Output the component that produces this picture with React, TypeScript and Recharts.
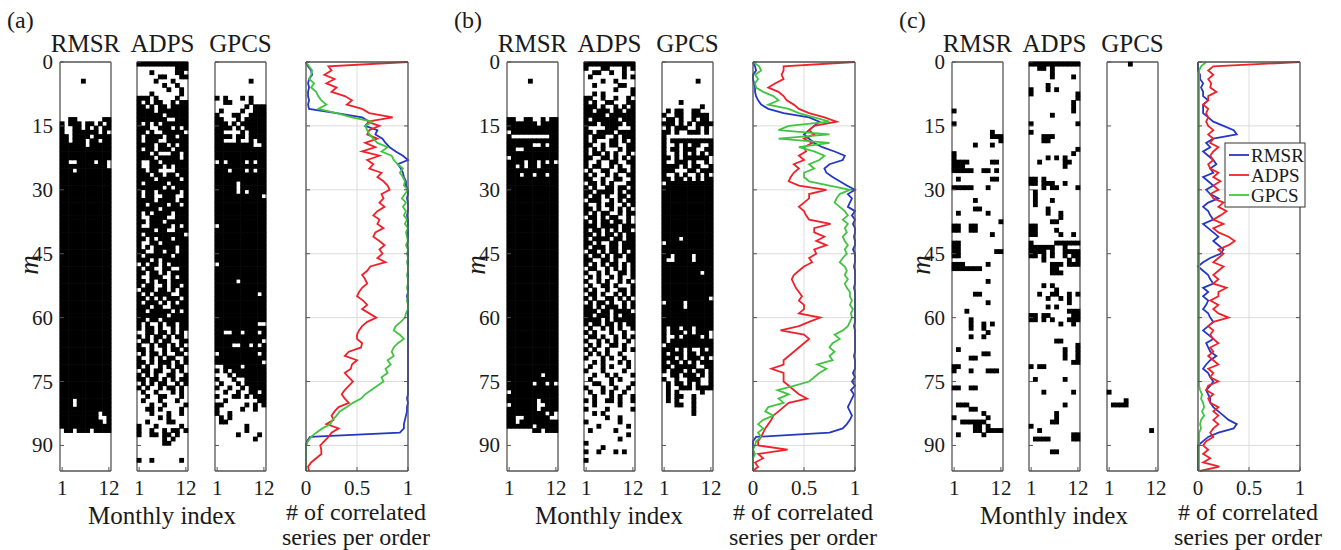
import React from "react";
import { ScatterChart, Scatter, LineChart, Line, XAxis, YAxis, CartesianGrid } from "recharts";

// ---------- data ----------
const PANELS = ["(a)", "(b)", "(c)"];
const METHODS = ["RMSR", "ADPS", "GPCS"];
const M_TICKS = [0, 15, 30, 45, 60, 75, 90];
const MONTH_TICKS = [1, 12];
const FRACTION_TICKS = [0, 0.5, 1];

// binary maps, 96 orders (rows, m = 0..95) x 12 months, '#' = correlated
const rmsrA = `
............ ............ ............ ............ .....#...... ............
............ ............ ............ ............ ............ ............
............ ..##......## #.###.##.#.# #..##.#.#.## #..######.#. ##.####.####
##.###.##.## ######.##### ############ ############ ############ ##..####.##.
###########. ###.######## ############ ############ ############ ############
############ ############ ############ ############ ############ ############
############ ############ ############ ############ ############ ############
############ ############ ############ ############ ############ ############
############ ############ ############ ############ ############ ############
############ ############ ############ ############ ############ ############
############ ############ ############ ############ ############ ############
############ ############ ############ ############ ############ ############
############ ############ ############ ############ ############ ############
############ ###.######## ###.######## ############ #########.## #########..#
##########.# ############ .##.###.#### ............ ............ ............
............ ............ ............ ............ ............ ............`;

const adpsA = `
############ .........### ...#.....##. .....##...## ....#...#... ......#..#..
.......#..#. ...#......#. ###.#....#.. #.#.##..#.## ##.#.##.#### ####.#######
######.##### #######..### #.#.#.###### ###..###.#.# ##.#..#####. #.####.##.##
#.###..##### ####.##.#.## #.##.###.### ###.#...##.# ####.#####.# #..##.######
#..###.#.### ##.##....### ###.##.##.## ####.#####.# #.#####.#### ######.#.###
#.##.#####.# #.##..###..# ####.####.## ##.####.##.# #####.###### #.#.####.###
#..####..### ##.###.##### #..#####.#.# ####.##..### #.#########. ##.#.###.###
#..##.###### #.#.#####.## ##..##.##.## #.######.### ###.#.###### .#.##.#.####
#.##..##..## ##.##.#.#### #..###..#.## ##.#.##.#### #.##..#.##.# .###.##.#.##
#.#.####..## ##.#.#.###.# #.###.#.#.## ###.##..#### ##.#####.#.# #######.####
##.##.###### #.#..#.##.## #.##.#..#.## ..##.##.#.#. #.#.##.#.##. .##.#.##..##
#..#.##.#.#. ##.#..#.##.# .#.##.#..##. #..#.#.##..# ##.#.###.#.# #.#..#.#.##.
.##.##..#.#. #.#.#..##..# ##.##.#.#.## .#.#.##..#.# #.#..#.##.#. .#..#...#.#.
..#..##...#. .#...#...#.. ...#..#....# ..##.#....#. ...#...#..#. .....#.#....
..#....##... #...#.....#. #..#..#.##.# #..##.##.#.. ......#.#... ......##....
............ ............ ............ #..#......#. ............ ............`;

const gpcsA = `
............ ............ ............ ............ ........#... ............
............ ............ #.#...#.#... ..##....#... .......#.### .#....#..###
#...##..#### ##...#.##### ###.#.###### ####.#.##### ##....#.#### ####.##.####
##...#..#.## #########..# ############ ############ ############ .#.####.#.##
############ ###.###.#.## ############ ############ #####.###### #####.######
#####.#.#### ###########. ############ ############ ############ ############
############ ############ .########### ############ ############ ############
############ ############ ############ ############ ############ .###########
############ ############ ############ #####.###### ############ ############
##########.# ############ ############ ############ ############ ############
############ ##########.. ############ ##..##.###.# ############ ###########.
####..##.#.# ############ .#########.# ############ ###########. ..####.#####
#.#.######## ...#.####### #...#..##### .#...#.##### #..#..#.#### ..#..#..##.#
#...##.#.### ..#.......## ##.....#.#.# #.....#..#.. #..#........ .#.#........
.##......... .......#.... .......#.... .....#....#. .........#.. ............
............ ............ ............ ............ ............ ............`;

const rmsrB = `
............ ............ ............ ............ .....#...... ............
............ ............ ............ ............ ............ ............
............ ##..##..#.## #######.#### ############ .########### #.........##
############ ######..#.## ##..######## ############ .########### ####.##.#.#.
##.#.##.#### ############ ###.##.##.## ############ ############ ############
############ ############ ############ ############ ############ ############
############ ############ ############ ############ ############ ############
############ ############ ############ ############ ############ ############
############ ############ ############ ############ ############ ############
############ ############ ############ ############ ############ ############
############ ############ ############ ############ ############ ############
############ ############ ############ ############ ############ ############
############ ########.### ############ ######.##.#. ############ .###########
############ #######.#### .######..### #######.#### #########.#. ##..######..
##.######### ######.##### ......##.### ............ ............ ............
............ ............ ............ ............ ............ ............`;

const adpsB = `
############ #...##...#.# ..##..#..#.. .#.......#.# ....#..#.... ..#.....##..
.......#...# ..#.#......# ##..#..#..#. #.#..##...## ###.#..#.#.# ##.###.##.##
#####.###### #.######.### ###.#####.## #....###...# ##.####.#### #.###..#.###
#.#...##.#.# ##..#.##..## #.#.#...#.## #.##.#.#..#. ##..##.#.#.# #..#..##..##
#.##..#.#..# .#..##..##.# #.#..#.#..## ##..#..##..# .##.#.#...## #.#..##.##.#
##.####.#.## #.##.#..##.# .###..#.#.## #..#.##..#.# ##.#..#.#.#. #.#.##..#.##
.##.#.##..#. #.#.##.##.#. ###.####.### #.##.#.#.##. ##.#.##.#.## #.####.##.##
##.#..##.### #.###.##.### .##.#.##.#.# #.##.#.##.## ##..##.#..## #.#.#.##.#.#
.##..#.#.#.# #..#.#..##.# .#.#..#.#..# #..#.#..#.#. .#..##.#...# #.#..#..##.#
.##.#..#.#.# #.#..##.#.#. .#.##.#..#.# ##.#.###.#.# ###.##.####. ##.###.#.###
####.#.##### #.##.##.#.## .#..#.#.#..# #.#...#..#.. .##.#..#.#.# #..#.#.#..#.
.#.#..##.#.. #.#..#...#.# .#.#.#..#... #...#.#..#.. ..#.#...#.#. .#..#.#...#.
#...#....#.. ..#..#.#...# .#....#.#... ..##..#....# #...#..#..#. .#..#.#..#..
..#...#.#..# #.#..##.#..# ..#.....#... #....#.....# ..#.#....... .....#..#...
#.......#... ...#......#. .#.....#.... ..........#. ........#... #...........
....#....... #..#...#.#.. ............ #........... ............ ............`;

const gpcsB = `
............ ............ ............ ............ ........#... ............
............ ............ ............ ....#....... .........#.. .#.##..##...
#..##..####. .##.#..#.##. ###.#.#.#### .#.###..#.#. ##.#..###.#. #...........
#.########## #..#.#.##..# #.##.###..## #..#.#.#.#.# ##.#.######. #..###.#..#.
####.#.##..# ###...##.### #..#.#..#.#. ##.##.#.#.## .########### ############
############ ############ ############ ############ ############ ############
############ ############ ############ ############ ############ ####.#######
.########### ############ ############ ##.####.#### #..####.#### ############
############ #########.## ############ ############ ############ ############
############ ###########. .####.###### #####.###### ############ ############
############ ############ #.##.##.#### #.###.#.###. #..#.####.#. #.##########
.########### ###.#.#..#.# #.###.##.### ###.#.###.#. #.##.#.#.### ##.#####..##
#.###.#.##.# ..##.###.#.# #..#..###..# .#.##.#.#..# .#..###.#### .#.#.....#..
.#.##..#.... .#.#...#.... ...##..#.... .......#.... .......#.... ............
............ ............ ............ ............ ............ ............
............ ............ ............ ............ ............ ............`;

const rmsrC = `
............ ............ ............ ............ ............ ............
............ ............ ............ ............ ............ #...........
............ ............ #........... ............ .........#.. .........###
...........# .....#...#.. ............ #........... #........... ####.....##.
###......... #####..##.#. ............ .#.......##. ............ #####...#...
............ ............ .....#...... ............ .....##..... .#......#...
............ ...........# ##..##...... ##..##...... .........#.. ............
##.......... ##.......... ##........## ##.......... ............ ###.....#...
#######..... ............ ............ ........#... ............ ............
.....##..... ............ ........#... ............ ...#........ ............
....#....... ....#..#.#.. ....#..#.... ........#... ....#..#.... ............
............ .#.......... .......##... ....##...... ............ ##..........
#...#...###. ............ ............ ............ ##..##...... ............
............ ............ .###........ ....##...... .......#.... #.......#...
..######.... .....##.#... .....##.#### .#.....#.... ............ ............
............ ............ ............ ............ ............ ............`;

const adpsC = `
############ ..##.#...... .....#...... .....#....#. ............ ....#.......
#...#.#..... #..........# ...........# ..........#. ..........#. ..........#.
.....#...... ............ #..........# ............ #........... ...###......
...##....... ............ ...........# ..........#. ....#.#.#... ..#.....##..
........#... ............ ............ ##.#........ ##.###..#... ...#.##....#
.#.......... .#.......... .#...#...... .#.......... ....#....... ....#..#....
.......#.... .....##..... ##.......... ##....#..... ##.....#..#. ............
#.....###### ######..#... ####.#..#### ##.#.#..#.## ...#.....#.# .....###.###
.....##..... .....###.... ............ ............ ...#.#...... ......#.....
..#..##..#.# ....#..#.#.. .........#.. ....#.#..... .........### ##.##.....##
##.#.#...### .......#..#. ............ ............ ............ ......##....
...........# ........#..# ........#..# ........#..# ..........## #.##........
............ ............ .#......#... ............ ............ ...#......#.
............ ............ ........#... ............ ......#..... ......#.....
.....##..... #........... ..#......... ..........## .####.....## ............
............ .....##..... ............ ............ ............ ............`;

const gpcsC = `
.....#...... ............ ............ ............ ............ ............
............ ............ ............ ............ ............ ............
............ ............ ............ ............ ............ ............
............ ............ ............ ............ ............ ............
............ ............ ............ ............ ............ ............
............ ............ ............ ............ ............ ............
............ ............ ............ ............ ............ ............
............ ............ ............ ............ ............ ............
............ ............ ............ ............ ............ ............
............ ............ ............ ............ ............ ............
............ ............ ............ ............ ............ ............
............ ............ ............ ............ ............ ............
............ ............ ............ ............ ............ #...........
............ ....#....... .####....... ............ ............ ............
............ ............ ..........#. ............ ............ ............
............ ............ ............ ............ ............ ............`;

// fraction of correlated series per order, m = 0..96
const rmsrLineA = [
  0, 0.02, 0.05, 0.06, 0.03, 0.02, 0.03, 0.02, 0.02, 0.03,
  0.02, 0.03, 0.3, 0.55, 0.62, 0.58, 0.7, 0.68, 0.75, 0.78,
  0.82, 0.88, 0.95, 1, 0.9, 0.93, 0.95, 0.96, 0.98, 0.98,
  1, 1, 0.99, 1, 1, 1, 0.99, 1, 1, 1,
  1, 1, 1, 0.99, 1, 1, 1, 1, 1, 1,
  1, 1, 1, 1, 1, 0.99, 1, 1, 1, 1,
  1, 1, 1, 1, 1, 1, 1, 1, 1, 1,
  1, 1, 1, 1, 1, 1, 1, 1, 1, 0.99,
  1, 0.99, 0.99, 0.98, 0.97, 0.96, 0.96, 0.92, 0.04, 0.01,
  0, 0, 0, 0, 0, 0, 0,
];
const adpsLineA = [
  1, 0.22, 0.25, 0.18, 0.28, 0.2, 0.3, 0.25, 0.38, 0.45,
  0.4, 0.55, 0.62, 0.85, 0.6, 0.72, 0.62, 0.6, 0.7, 0.58,
  0.68, 0.55, 0.72, 0.6, 0.66, 0.62, 0.74, 0.7, 0.76, 0.8,
  0.82, 0.74, 0.76, 0.72, 0.77, 0.7, 0.66, 0.72, 0.7, 0.76,
  0.68, 0.66, 0.72, 0.77, 0.72, 0.75, 0.7, 0.78, 0.63, 0.6,
  0.55, 0.58, 0.6, 0.55, 0.52, 0.5, 0.56, 0.6, 0.55, 0.62,
  0.69, 0.6, 0.55, 0.52, 0.5, 0.5, 0.55, 0.54, 0.42, 0.38,
  0.5, 0.45, 0.44, 0.38, 0.42, 0.46, 0.42, 0.38, 0.35, 0.38,
  0.42, 0.32, 0.28, 0.25, 0.27, 0.2, 0.32, 0.25, 0.22, 0.18,
  0.14, 0.15, 0.15, 0.1, 0.05, 0.02, 0.03,
];
const gpcsLineA = [
  0, 0.03, 0.06, 0.05, 0.03, 0.08, 0.05, 0.1, 0.12, 0.15,
  0.2, 0.12, 0.3, 0.45, 0.65, 0.58, 0.6, 0.62, 0.66, 0.7,
  0.8, 0.74, 0.84, 0.86, 0.9, 0.95, 0.92, 0.95, 0.97, 0.96,
  1, 0.97, 0.94, 0.98, 0.95, 0.98, 0.96, 0.99, 0.97, 1,
  0.98, 0.99, 1, 0.98, 1, 0.99, 1, 0.99, 1, 1,
  0.99, 1, 1, 0.99, 1, 1, 0.99, 1, 1, 0.98,
  0.97, 0.93, 0.88, 0.86, 0.92, 0.96, 0.9, 0.86, 0.84, 0.86,
  0.8, 0.83, 0.78, 0.8, 0.74, 0.76, 0.7, 0.64, 0.58, 0.54,
  0.46, 0.4, 0.33, 0.3, 0.26, 0.24, 0.16, 0.1, 0.05, 0.02,
  0, 0, 0, 0, 0, 0, 0,
];

const rmsrLineB = [
  0, 0.02, 0.03, 0, 0, 0.01, 0.02, 0.02, 0.03, 0.05,
  0.08, 0.15, 0.3, 0.55, 0.65, 0.6, 0.55, 0.5, 0.55, 0.6,
  0.68, 0.8, 0.9, 0.88, 0.75, 0.7, 0.72, 0.78, 0.85, 0.92,
  1, 0.93, 0.97, 0.95, 0.93, 1, 0.97, 1, 0.98, 1,
  1, 0.99, 1, 1, 0.98, 1, 1, 1, 0.99, 1,
  1, 1, 1, 0.99, 1, 1, 1, 1, 1, 1,
  1, 1, 0.99, 1, 1, 1, 1, 1, 1, 0.99,
  1, 1, 1, 0.98, 1, 0.97, 1, 0.96, 0.99, 0.97,
  0.95, 0.93, 0.95, 0.97, 0.95, 0.92, 0.88, 0.75, 0.03, 0,
  0, 0, 0, 0, 0, 0, 0,
];
const adpsLineB = [
  1, 0.3, 0.3, 0.28, 0.3, 0.22, 0.15, 0.25, 0.3, 0.33,
  0.4, 0.45, 0.55, 0.7, 0.82, 0.6, 0.55, 0.6, 0.5, 0.58,
  0.5, 0.52, 0.45, 0.5, 0.4, 0.45, 0.4, 0.37, 0.35, 0.45,
  0.72, 0.55, 0.55, 0.5, 0.45, 0.5, 0.52, 0.55, 0.76, 0.6,
  0.6, 0.7, 0.62, 0.72, 0.6, 0.62, 0.55, 0.58, 0.5, 0.45,
  0.4, 0.38, 0.4, 0.42, 0.45, 0.48, 0.45, 0.5, 0.5, 0.45,
  0.66, 0.55, 0.45, 0.27, 0.5, 0.55, 0.5, 0.45, 0.4, 0.35,
  0.3, 0.3, 0.18, 0.3, 0.3, 0.3, 0.35, 0.4, 0.45, 0.53,
  0.35, 0.3, 0.25, 0.2, 0.18, 0.15, 0.12, 0.1, 0.08, 0.05,
  0.05, 0.34, 0.05, 0.1, 0.02, 0.05, 0,
];
const gpcsLineB = [
  0, 0.06, 0.08, 0.02, 0.05, 0.02, 0.03, 0.1, 0.2, 0.25,
  0.15, 0.35, 0.45, 0.6, 0.75, 0.35, 0.25, 0.75, 0.25, 0.75,
  0.45, 0.6, 0.7, 0.65, 0.55, 0.6, 0.5, 0.5, 0.55, 0.75,
  0.95, 0.85, 0.82, 0.8, 0.85, 0.9, 0.93, 0.88, 0.93, 0.9,
  0.92, 0.88, 0.9, 0.93, 0.9, 0.92, 0.88, 0.85, 0.9, 0.92,
  0.9, 0.93, 0.9, 0.92, 0.95, 0.95, 0.97, 0.95, 0.98, 0.96,
  0.97, 0.95, 0.93, 0.88, 0.8, 0.85, 0.78, 0.75, 0.8, 0.75,
  0.78, 0.63, 0.72, 0.65, 0.6, 0.55, 0.4, 0.24, 0.35, 0.25,
  0.3, 0.15, 0.12, 0.2, 0.1, 0.05, 0.1, 0.05, 0.08, 0.03,
  0.02, 0, 0.02, 0, 0, 0, 0,
];

const rmsrLineC = [
  0, 0, 0, 0.02, 0.02, 0.05, 0.03, 0.05, 0.05, 0.1,
  0.05, 0.05, 0.05, 0.1, 0.15, 0.25, 0.35, 0.38, 0.15, 0.08,
  0.12, 0.05, 0.1, 0.15, 0.18, 0.12, 0.15, 0.05, 0.1, 0.15,
  0.08, 0.12, 0.2, 0.1, 0.05, 0.1, 0.12, 0.15, 0.05, 0.1,
  0.15, 0.2, 0.15, 0.2, 0.25, 0.22, 0.12, 0.05, 0, 0.05,
  0.1, 0.12, 0.15, 0.05, 0.1, 0.05, 0.1, 0.08, 0.05, 0.1,
  0.12, 0.15, 0.1, 0.05, 0.1, 0.15, 0.08, 0.1, 0.12, 0.18,
  0.12, 0.08, 0.05, 0.1, 0.12, 0.15, 0.12, 0.08, 0.1, 0.12,
  0.12, 0.15, 0.2, 0.25, 0.3, 0.38, 0.35, 0.2, 0.1, 0.05,
  0, 0, 0, 0, 0, 0, 0,
];
const adpsLineC = [
  1, 0.15, 0.1, 0.15, 0.1, 0.13, 0.12, 0.18, 0.1, 0.1,
  0.05, 0.1, 0.08, 0.1, 0.08, 0.1, 0.15, 0.1, 0.15, 0.12,
  0.2, 0.15, 0.12, 0.15, 0.1, 0.12, 0.2, 0.15, 0.22, 0.15,
  0.2, 0.12, 0.15, 0.25, 0.2, 0.28, 0.22, 0.15, 0.25, 0.15,
  0.2, 0.3, 0.36, 0.3, 0.2, 0.25, 0.2, 0.15, 0.25, 0.2,
  0.15, 0.2, 0.15, 0.28, 0.2, 0.2, 0.12, 0.2, 0.15, 0.2,
  0.3, 0.15, 0.1, 0.15, 0.12, 0.15, 0.2, 0.12, 0.15, 0.1,
  0.15, 0.2, 0.1, 0.15, 0.12, 0.2, 0.1, 0.08, 0.15, 0.1,
  0.12, 0.2, 0.15, 0.2, 0.15, 0.2, 0.15, 0.12, 0.15, 0.08,
  0.05, 0.1, 0.05, 0.12, 0.05, 0.21, 0.02,
];
const gpcsLineC = [
  0.08, 0.03, 0.01, 0.01, 0.01, 0.01, 0.01, 0.01, 0.01, 0.01,
  0.01, 0.01, 0.01, 0.01, 0.01, 0.01, 0.01, 0.01, 0.01, 0.01,
  0.01, 0.01, 0.01, 0.01, 0.01, 0.01, 0.01, 0.01, 0.01, 0.01,
  0.01, 0.01, 0.01, 0.01, 0.01, 0.01, 0.01, 0.01, 0.01, 0.01,
  0.01, 0.01, 0.01, 0.01, 0.01, 0.01, 0.01, 0.01, 0.01, 0.01,
  0.01, 0.01, 0.01, 0.01, 0.01, 0.01, 0.01, 0.01, 0.01, 0.01,
  0.01, 0.01, 0.01, 0.01, 0.01, 0.01, 0.01, 0.01, 0.01, 0.01,
  0.01, 0.01, 0.01, 0.01, 0.01, 0.01, 0.01, 0.02, 0.04, 0.03,
  0.05, 0.06, 0.04, 0.06, 0.03, 0.02, 0.03, 0.01, 0.01, 0.01,
  0.01, 0.01, 0.01, 0.01, 0.01, 0.01, 0.01,
];

const MAPS = [
  [rmsrA, adpsA, gpcsA],
  [rmsrB, adpsB, gpcsB],
  [rmsrC, adpsC, gpcsC],
];
const LINES = [
  [rmsrLineA, adpsLineA, gpcsLineA],
  [rmsrLineB, adpsLineB, gpcsLineB],
  [rmsrLineC, adpsLineC, gpcsLineC],
];

// ---------- layout / style ----------
const FONT = "'Liberation Serif', 'Times New Roman', serif";
const INK = "#1a1a1a";
const FRAME = "#555";
const GRID = "#dcdcdc";
const COLORS = ["#2438c4", "#f0212a", "#42c442"];
const PANEL_X = [0, 447, 892];
const MAT_X = [60, 137, 215];
const LINE_X = 306;
const PLOT_TOP = 62;
const PLOT_H = 409;
const MAT_W = 51;
const LINE_W = 102;
const SIDE = 40;
const TOP = 20;
const BOTTOM = 40;
const TICK_LEN = 4;

function parseGrid(grid: string) {
  const rows = grid.trim().split(/\s+/);
  const cells: { col: number; row: number }[] = [];
  rows.forEach((line, r) => {
    for (let c = 0; c < 12; c++) {
      if (line[c] === "#") cells.push({ col: c + 1, row: r + 0.5 });
    }
  });
  return cells;
}

const leftTick = (withLabel: boolean) => (p: any) => (
  <g>
    <line x1={p.x} x2={p.x + TICK_LEN} y1={p.y} y2={p.y} stroke={FRAME} />
    {withLabel && (
      <text x={p.x - 7} y={p.y} textAnchor="end" dominantBaseline="central"
        fontFamily={FONT} fontSize={21} fill={INK}>
        {p.payload.value}
      </text>
    )}
  </g>
);
const rightTick = (p: any) => (
  <line x1={p.x - TICK_LEN} x2={p.x} y1={p.y} y2={p.y} stroke={FRAME} />
);
const topTick = (p: any) => (
  <line x1={p.x} x2={p.x} y1={p.y} y2={p.y + TICK_LEN} stroke={FRAME} />
);
const bottomTick = (p: any) => (
  <g>
    <line x1={p.x} x2={p.x} y1={p.y - TICK_LEN} y2={p.y} stroke={FRAME} />
    <text x={p.x} y={p.y + 17} textAnchor="middle" dominantBaseline="central"
      fontFamily={FONT} fontSize={21} fill={INK}>
      {p.payload.value}
    </text>
  </g>
);

const axisCommon = {
  tickSize: 0,
  tickMargin: 0,
  tickLine: false,
  interval: 0 as const,
  axisLine: { stroke: FRAME, strokeWidth: 1.3 },
};

function BinaryMap({ grid, left, labels }: { grid: string; left: number; labels: boolean }) {
  const cells = parseGrid(grid);
  const cw = MAT_W / 12;
  const ch = PLOT_H / 96;
  return (
    <div style={{ position: "absolute", left: left - SIDE, top: PLOT_TOP - TOP }}>
      <ScatterChart width={MAT_W + 2 * SIDE} height={PLOT_H + TOP + BOTTOM}
        margin={{ top: 0, right: 0, bottom: 0, left: 0 }}>
        <Scatter xAxisId="b" yAxisId="l" data={cells} isAnimationActive={false}
          shape={(p: any) => (
            <rect x={p.cx - cw / 2 - 0.3} y={p.cy - ch / 2 - 0.3}
              width={cw + 0.6} height={ch + 0.6} fill="#000" />
          )} />
        <XAxis xAxisId="b" type="number" dataKey="col" domain={[0.5, 12.5]}
          ticks={MONTH_TICKS} height={BOTTOM} tick={bottomTick} {...axisCommon} />
        <XAxis xAxisId="t" orientation="top" type="number" domain={[0.5, 12.5]}
          ticks={MONTH_TICKS} height={TOP} tick={topTick} {...axisCommon} />
        <YAxis yAxisId="l" type="number" dataKey="row" domain={[0, 96]} reversed
          ticks={M_TICKS} width={SIDE} tick={leftTick(labels)} {...axisCommon} />
        <YAxis yAxisId="r" orientation="right" type="number" domain={[0, 96]} reversed
          ticks={M_TICKS} width={SIDE} tick={rightTick} {...axisCommon} />
      </ScatterChart>
    </div>
  );
}

function FractionPlot({ series, left }: { series: number[][]; left: number }) {
  const data = series[0].map((_, m) => ({
    m,
    RMSR: series[0][m],
    ADPS: series[1][m],
    GPCS: series[2][m],
  }));
  return (
    <div style={{ position: "absolute", left: left - SIDE, top: PLOT_TOP - TOP }}>
      <LineChart layout="vertical" data={data} width={LINE_W + 2 * SIDE}
        height={PLOT_H + TOP + BOTTOM} margin={{ top: 0, right: 0, bottom: 0, left: 0 }}>
        <CartesianGrid xAxisId="b" yAxisId="l" stroke={GRID} strokeWidth={1} />
        {METHODS.map((name, i) => (
          <Line key={name} xAxisId="b" yAxisId="l" dataKey={name} stroke={COLORS[i]}
            strokeWidth={1.8} dot={false} isAnimationActive={false} />
        ))}
        <XAxis xAxisId="b" type="number" domain={[0, 1]} ticks={FRACTION_TICKS}
          height={BOTTOM} tick={bottomTick} {...axisCommon} />
        <XAxis xAxisId="t" orientation="top" type="number" domain={[0, 1]}
          ticks={FRACTION_TICKS} height={TOP} tick={topTick} {...axisCommon} />
        <YAxis yAxisId="l" type="number" dataKey="m" domain={[0, 96]}
          ticks={M_TICKS} width={SIDE} tick={leftTick(false)} {...axisCommon} />
        <YAxis yAxisId="r" orientation="right" type="number" domain={[0, 96]}
          ticks={M_TICKS} width={SIDE} tick={rightTick} {...axisCommon} />
      </LineChart>
    </div>
  );
}

export default function App() {
  return (
    <div style={{ position: "absolute", left: 0, top: 0, width: 1341, height: 550,
      background: "#fff", overflow: "hidden" }}>
      {PANEL_X.map((dx, p) => (
        <React.Fragment key={p}>
          {MAT_X.map((mx, i) => (
            <BinaryMap key={i} grid={MAPS[p][i]} left={dx + mx} labels={i === 0} />
          ))}
          <FractionPlot series={LINES[p]} left={dx + LINE_X} />
        </React.Fragment>
      ))}
      <svg width={1341} height={550} style={{ position: "absolute", left: 0, top: 0 }}
        fontFamily={FONT} fill={INK}>
        {PANEL_X.map((dx, p) => (
          <g key={p}>
            <text x={dx + 7} y={28} fontSize={24}>{PANELS[p]}</text>
            {MAT_X.map((mx, i) => (
              <text key={i} x={dx + mx + MAT_W / 2} y={52} textAnchor="middle" fontSize={25}>
                {METHODS[i]}
              </text>
            ))}
            <text transform={`translate(${dx + 38},265) rotate(-90)`} textAnchor="middle"
              fontSize={27} fontStyle="italic">m</text>
            <text x={dx + 162} y={524} textAnchor="middle" fontSize={25}>Monthly index</text>
            <text x={dx + 356} y={520} textAnchor="middle" fontSize={24}># of correlated</text>
            <text x={dx + 356} y={545} textAnchor="middle" fontSize={24}>series per order</text>
          </g>
        ))}
        <g>
          <rect x={1225} y={143} width={80} height={64} fill="#fff" stroke="#333" strokeWidth={1} />
          {METHODS.map((name, i) => (
            <g key={name}>
              <line x1={1229} x2={1249} y1={155 + i * 20} y2={155 + i * 20}
                stroke={COLORS[i]} strokeWidth={1.8} />
              <text x={1251} y={155 + i * 20} dominantBaseline="central" fontSize={19}>{name}</text>
            </g>
          ))}
        </g>
      </svg>
    </div>
  );
}
